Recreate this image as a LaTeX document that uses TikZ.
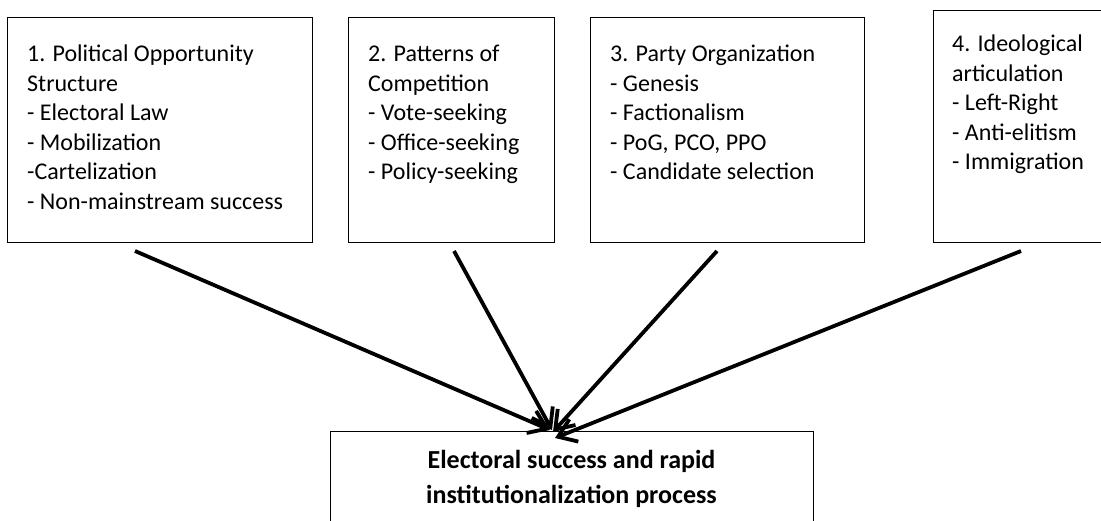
\documentclass[tikz,border=0pt]{standalone}
\usepackage{fontspec}
\setmainfont{Carlito}
\usetikzlibrary{arrows.meta,calc}
\begin{document}
\begin{tikzpicture}[x=1pt,y=1pt,
  box/.style={draw=black, line width=1pt, inner sep=0pt, anchor=north west},
  lbl/.style={anchor=north west, inner sep=0pt, align=left, font=\fontsize{24}{29.5}\selectfont},
  goal/.style={anchor=north, inner sep=0pt, align=center, font=\fontsize{26}{35}\selectfont\bfseries},
  arr/.style={line width=3.8pt, -{Straight Barb[length=17pt,width=24pt]}}]
\useasboundingbox (0,0) rectangle (1101,-521);
\fill[white] (0,0) rectangle (1101,-521);
% boxes
\node[box, minimum width=305pt, minimum height=225pt] (b1) at (7,-17) {};
\node[box, minimum width=206pt, minimum height=225pt] (b2) at (348,-17) {};
\node[box, minimum width=274pt, minimum height=225pt] (b3) at (590,-17) {};
\node[box, minimum width=200pt, minimum height=232pt] (b4) at (933,-10) {};
\node[box, minimum width=483pt, minimum height=120pt] (g) at (330,-431) {};
% texts
\node[lbl] (t1) at ($(b1.north west)+(20,-28)$) {1. Political Opportunity\\Structure\\- Electoral Law\\- Mobilization\\-Cartelization\\- Non-mainstream success};
\node[lbl] (t2) at ($(b2.north west)+(20,-28)$) {2. Patterns of\\Competition\\- Vote-seeking\\- Office-seeking\\- Policy-seeking};
\node[lbl] (t3) at ($(b3.north west)+(20,-28)$) {3. Party Organization\\- Genesis\\- Factionalism\\- PoG, PCO, PPO\\- Candidate selection};
\node[lbl] (t4) at ($(b4.north west)+(19,-25)$) {4. Ideological\\articulation\\- Left-Right\\- Anti-elitism\\- Immigration};
\node[goal] (tg) at ($(g.north west)+(241.5,-19)$) {Electoral success and rapid\\institutionalization process};
% arrow anchor coordinates
\coordinate (s1) at ($(b1.south west)+(128,-8)$);
\coordinate (s2) at ($(b2.south west)+(106,-8)$);
\coordinate (s3) at ($(b3.south west)+(127,-8)$);
\coordinate (s4) at ($(b4.south west)+(88,-8)$);
\coordinate (e1) at ($(g.north west)+(220,1)$);
\coordinate (e2) at ($(g.north west)+(222,1)$);
\coordinate (e3) at ($(g.north west)+(223,-1)$);
\coordinate (e4) at ($(g.north west)+(225,-7)$);
\draw[arr] (s1) -- (e1);
\draw[arr] (s2) -- (e2);
\draw[arr] (s3) -- (e3);
\draw[arr] (s4) -- (e4);
\end{tikzpicture}
\end{document}
